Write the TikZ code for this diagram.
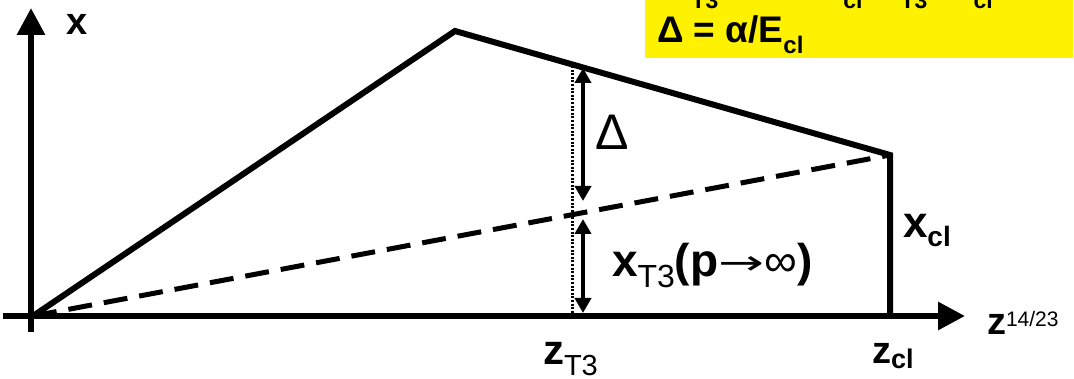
\documentclass[tikz,border=0pt]{standalone}
\usepackage{fontspec}
\usepackage{graphicx}
\setmainfont{Liberation Sans}
\newfontfamily\djv{DejaVu Sans}
\usetikzlibrary{arrows.meta}
\newcommand{\lsb}[3]{\raisebox{-#1pt}{\fontsize{#2pt}{#2pt}\selectfont #3}}
\newcommand{\usb}[3]{\raisebox{#1pt}{\fontsize{#2pt}{#2pt}\selectfont #3}}
\newcommand{\fs}[1]{\fontsize{#1pt}{#1pt}\selectfont}
\begin{document}
\begin{tikzpicture}[x=1pt,y=-1pt,
  axis/.style={line width=6pt, -{Triangle[length=27pt,width=27pt]}},
  curve/.style={line width=6pt, line join=miter},
  dashline/.style={line width=5pt, dash pattern=on 24pt off 12pt},
  dots/.style={line width=3pt, dash pattern=on 2pt off 1.6pt},
  dim/.style={line width=4pt, {Triangle[length=15pt,width=16pt]}-{Triangle[length=15pt,width=16pt]}},
  lab/.style={inner sep=0pt, outer sep=0pt}]
\useasboundingbox (0,0) rectangle (1074,379);
\fill[white] (0,0) rectangle (1074,379);

% yellow box (top line cut off by the edge)
\begin{scope}
  \clip (645,0) rectangle (1073,58);
  \fill[yellow] (645,0) rectangle (1073,58);
  \node[lab, font=\bfseries\fs{35}, anchor=base west] (f1) at (672,-2)
    {x\lsb{11}{23}{T3} = \hspace{65.7pt}x\lsb{11}{23}{cl} \hspace{10.8pt}z\lsb{11}{23}{T3}/\hspace{19pt}z\lsb{11}{23}{cl}};
  \node[lab, font=\bfseries\fs{37}, anchor=base west] (f2) at (657,43)
    {Δ = α/E\lsb{11}{24}{cl}};
\end{scope}

% coordinates
\coordinate (ybot) at (31,332);
\coordinate (ytip) at (31,8);
\coordinate (xstart) at (3,316);
\coordinate (xtip) at (965,316);
\coordinate (o) at (33,316);
\coordinate (peak) at (455,31);
\coordinate (corner) at (890,155);
\coordinate (zcl) at (890,316);
\coordinate (dtop) at (572,66);
\coordinate (dbot) at (572,314);
\coordinate (a1) at (583,68);
\coordinate (a2) at (583,201);
\coordinate (a3) at (583,219);
\coordinate (a4) at (583,313);

% axes
\draw[axis] (ybot) -- (ytip);
\draw[axis] (xstart) -- (xtip);

% curves
\draw[dashline] (o) -- (corner);
\draw[curve] (o) -- (peak) -- (corner) -- (zcl);
\draw[dots] (dtop) -- (dbot);
\draw[dim] (a1) -- (a2);
\draw[dim] (a3) -- (a4);

% labels
\node[lab, font=\bfseries\fs{38}, anchor=base] (xlab) at (77,35) {x};
\node[lab, font=\fs{50}, anchor=base] (dlab) at (612,150) {Δ};
\node[lab, font=\bfseries\fs{46}, anchor=base west] (xt3) at (612,277)
  {x\lsb{11}{32}{\mdseries T3}(p{\mdseries\raisebox{2pt}{\djv\fontsize{34pt}{34pt}\selectfont\resizebox{46pt}{\height}{→}}∞})};
\node[lab, font=\bfseries\fs{44}, anchor=base west] (xcl) at (903,238)
  {x\lsb{9}{28}{cl}};
\node[lab, font=\bfseries\fs{38}, anchor=base west] (zcllab) at (872,363)
  {z\lsb{5}{27}{cl}};
\node[lab, font=\bfseries\fs{42}, anchor=base west] (zt3) at (543,365)
  {z\lsb{10}{29}{\mdseries T3}};
\node[lab, font=\bfseries\fs{38}, anchor=base west] (zax) at (987,335)
  {z\usb{8}{21}{\mdseries 14/23}};
\end{tikzpicture}
\end{document}
